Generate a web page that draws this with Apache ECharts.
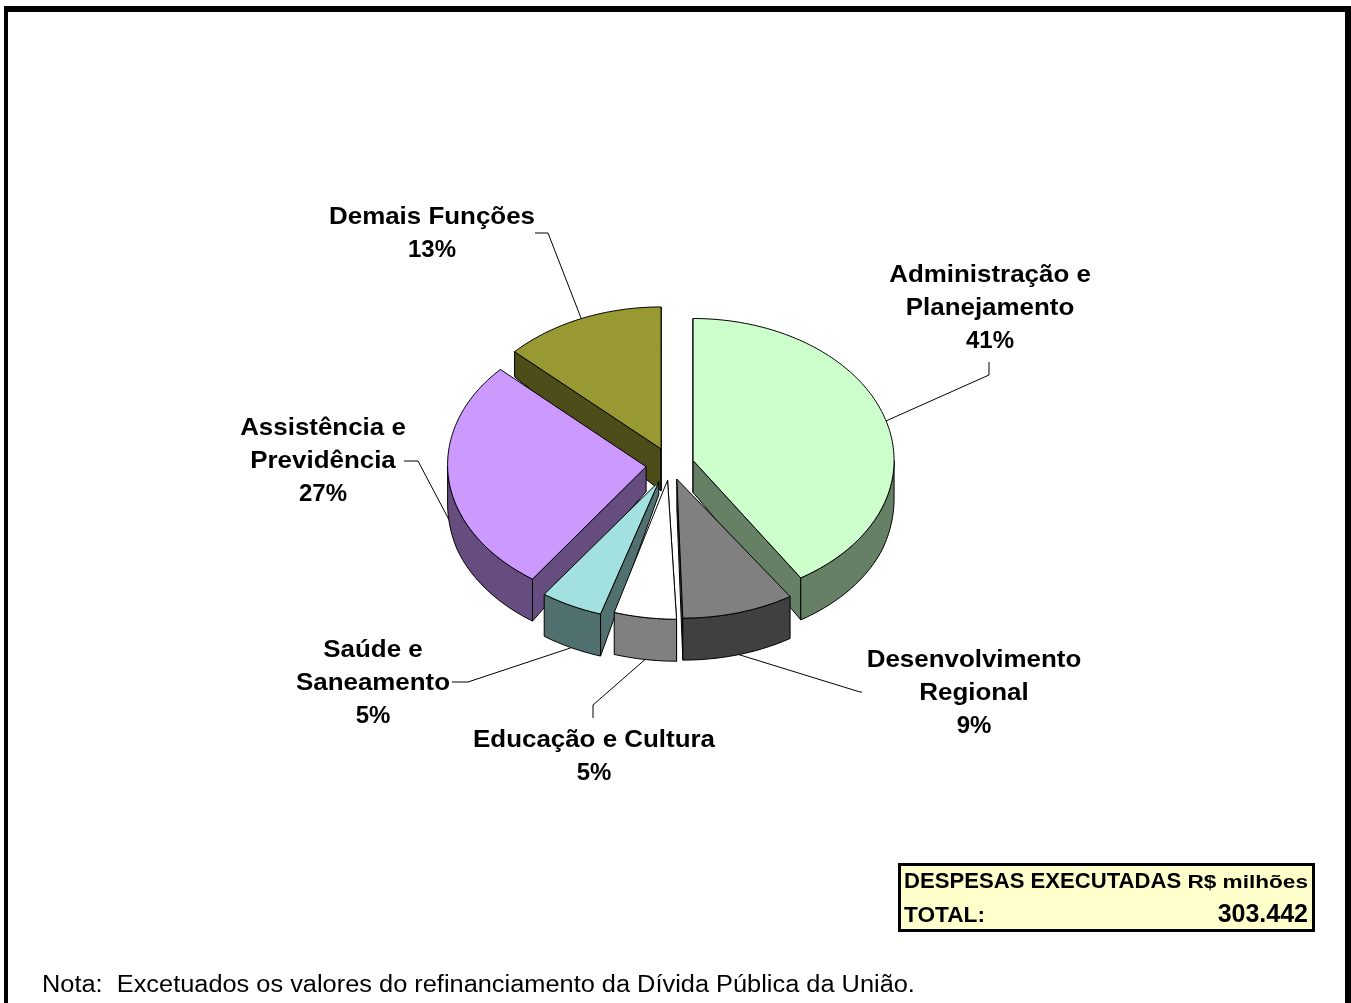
<!DOCTYPE html>
<html>
<head>
<meta charset="utf-8">
<style>
  html, body { margin: 0; padding: 0; background: #fff; }
  #chart { width: 1351px; height: 1003px; }
</style>
<script src="https://cdn.jsdelivr.net/npm/echarts@6/dist/echarts.min.js"></script>
</head>
<body>
<div id="chart"></div>
<script>
// clockwise from 12 o'clock
var categories = ["Administração e\nPlanejamento", "Desenvolvimento\nRegional", "Educação e Cultura", "Saúde e\nSaneamento", "Assistência e\nPrevidência", "Demais Funções"];
var shares = [41, 9, 5, 5, 27, 13];
var totalLabel = "303.442";

var topColors = ["#ccffcc", "#808080", "#ffffff", "#a3e0e0", "#cc99ff", "#999933"];
var sideColors = ["#668066", "#404040", "#808080", "#517070", "#664d80", "#4d4d19"];
var explode = [23, 21, 22, 27, 25, 25];
// fake perspective: front rims sit a bit right of their apex, cut faces differ in height at the apex
var rimShift = [0, 6, 9, 4, 5, 0];
var apexDepth = [32, 30, 30, 13, 25, 42];
// label centre x, y of first line, then the leader elbow and its end
var labelSpots = [
  { x: 990, y: 275, elbow: [[989, 375], [989, 362]] },
  { x: 974, y: 660, elbow: [[860, 692], [862, 692]] },
  { x: 594, y: 740, elbow: [[593, 705], [593, 718]] },
  { x: 373, y: 650, elbow: [[468, 682], [452, 682]] },
  { x: 323, y: 428, elbow: [[418, 461], [404, 461]] },
  { x: 432, y: 217, elbow: [[548, 233], [535, 233]] }
];

var cx = 671, cy = 465, rx = 201, ryBack = 142, ryFront = 139;
var black = "#000";
var labelFont = "bold 24px 'Liberation Sans'";
var total = shares.reduce(function (a, b) { return a + b; }, 0);

// slice angles in radians, and where each slice has been pulled out to
var slices = [];
var run = 0;
shares.forEach(function (v, i) {
  var a0 = run / total * Math.PI * 2;
  run += v;
  var a1 = run / total * Math.PI * 2;
  var mid = (a0 + a1) / 2;
  slices.push({
    a0: a0, a1: a1, mid: mid,
    shift: rimShift[i], apexDrop: apexDepth[i],
    ax: cx + explode[i] * Math.sin(mid),
    ay: cy - explode[i] * Math.cos(mid) * 0.7
  });
});

function rimPoint(s, a) {
  var c = Math.cos(a);
  return [
    s.ax + rx * Math.sin(a) + s.shift * (0.5 - 0.5 * c),
    s.ay - (c > 0 ? ryBack : ryFront) * c
  ];
}
// the wall gets taller towards the viewer
function wallDepth(y, side) {
  return Math.min(42, 21 + 0.1 * (y - 354) + 6 * side);
}
function lower(p, side) {
  return [p[0], p[1] + wallDepth(p[1], side)];
}
function arc(s, from, to) {
  var pts = [];
  var n = Math.max(2, Math.ceil((to - from) / 0.02));
  for (var i = 0; i <= n; i++) {
    pts.push(rimPoint(s, from + (to - from) * i / n));
  }
  return pts;
}
function poly(points, fill) {
  return {
    type: "polygon",
    shape: { points: points },
    style: { fill: fill, stroke: black, lineWidth: 1, lineJoin: "round" }
  };
}
function cutFace(s, a, fill) {
  var rim = rimPoint(s, a);
  return poly([[s.ax, s.ay], rim, lower(rim, Math.abs(Math.sin(a))), [s.ax, s.ay + s.apexDrop]], fill);
}

function renderSlice(params, api) {
  var i = api.value(0);
  var s = slices[i];
  var kids = [];
  // the cut faces only show when they turn towards the viewer
  if (Math.sin(s.a0) < 0.001) kids.push(cutFace(s, s.a0, sideColors[i]));
  if (Math.sin(s.a1) > -0.001) kids.push(cutFace(s, s.a1, sideColors[i]));
  var low = Math.max(s.a0, Math.PI / 2);
  var high = Math.min(s.a1, Math.PI * 1.5);
  if (high > low) {
    var front = arc(s, low, high);
    var bottom = front.map(function (p, k) {
      var a = low + (high - low) * k / (front.length - 1);
      return lower(p, Math.abs(Math.sin(a)));
    }).reverse();
    kids.push(poly(front.concat(bottom), sideColors[i]));
  }
  kids.push(poly([[s.ax, s.ay]].concat(arc(s, s.a0, s.a1)), topColors[i]));
  return { type: "group", children: kids };
}

function renderLabel(params, api) {
  var i = api.value(0);
  var s = slices[i];
  var spot = labelSpots[i];
  var anchor = rimPoint(s, s.mid);
  if (Math.cos(s.mid) < 0) anchor = lower(anchor, Math.abs(Math.sin(s.mid)));
  var names = categories[i].split("\n");
  var kids = [{
    type: "polyline",
    shape: { points: [anchor].concat(spot.elbow) },
    style: { fill: "none", stroke: black, lineWidth: 1 }
  }];
  names.concat(shares[i] + "%").forEach(function (t, k) {
    kids.push({
      type: "text",
      x: spot.x,
      y: spot.y + k * 33.3,
      // names are letter-spaced in the picture, percentages are not
      scaleX: k < names.length ? 1.08 : 1,
      style: { text: t, font: labelFont, fill: black, textAlign: "center", textVerticalAlign: "middle" }
    });
  });
  return { type: "group", children: kids };
}

function noteText(text, x, y, size, weight, align, scaleX) {
  return {
    type: "text", z: 6, x: x, y: y, scaleX: scaleX,
    style: { text: text, font: weight + " " + size + "px 'Liberation Sans'", fill: black, textAlign: align, textVerticalAlign: "middle" }
  };
}

// back slices first
var drawOrder = shares.map(function (v, i) { return i; }).sort(function (a, b) {
  return Math.cos(slices[b].mid) - Math.cos(slices[a].mid);
});

var chart = echarts.init(document.getElementById("chart"));
chart.setOption({
  animation: false,
  backgroundColor: "#fff",
  graphic: [
    { type: "rect", shape: { x: 4, y: 6, width: 1347, height: 6 }, style: { fill: black } },
    { type: "rect", shape: { x: 4, y: 6, width: 4, height: 997 }, style: { fill: black } },
    { type: "rect", shape: { x: 1345, y: 6, width: 6, height: 997 }, style: { fill: black } },
    { type: "rect", z: 5, shape: { x: 899.5, y: 864.5, width: 414, height: 66 }, style: { fill: "#ffffcc", stroke: black, lineWidth: 3 } },
    noteText("DESPESAS EXECUTADAS", 904, 882, 22, "bold", "left", 1.005),
    noteText("R$ milhões", 1308, 882.5, 19, "bold", "right", 1.19),
    noteText("TOTAL:", 904, 915.5, 22, "bold", "left", 1.03),
    noteText(totalLabel, 1308, 915, 25, "bold", "right", 1),
    noteText("Nota:  Excetuados os valores do refinanciamento da Dívida Pública da União.", 42, 985.5, 23, "normal", "left", 1.103)
  ],
  series: [
    {
      type: "custom", coordinateSystem: "none", z: 2, silent: true,
      renderItem: renderLabel,
      data: shares.map(function (v, i) { return [i, v]; })
    },
    {
      type: "custom", coordinateSystem: "none", z: 3, silent: true,
      renderItem: renderSlice,
      data: drawOrder.map(function (i) { return [i, shares[i]]; })
    }
  ]
});
</script>
</body>
</html>
